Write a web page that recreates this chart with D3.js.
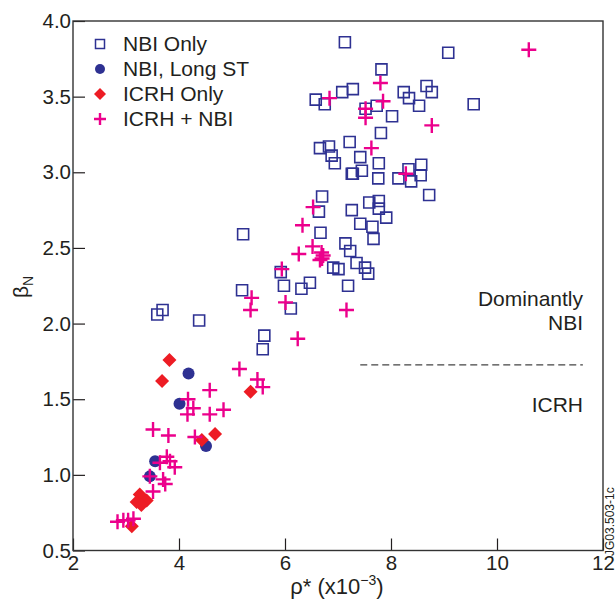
<!DOCTYPE html>
<html>
<head>
<meta charset="utf-8">
<script src="https://cdn.jsdelivr.net/npm/d3@7"></script>
<style>
  body { margin: 0; background: #fff; }
  svg text { font-family: "Liberation Sans", Arial, sans-serif; fill: #231f20; }
</style>
</head>
<body>
<svg id="chart" width="616" height="603"></svg>
<script>
// rho* (x1e-3), beta_N pairs per heating scheme
const nbiOnly = [
  [7.13,3.86],[9.08,3.79],[7.82,3.68],[6.58,3.48],[6.75,3.45],[7.08,3.53],[7.28,3.55],
  [7.52,3.42],[7.73,3.44],[8.02,3.37],[8.24,3.53],[8.34,3.49],[8.53,3.44],[8.67,3.57],
  [8.77,3.53],[9.56,3.45],[7.81,3.26],[6.66,3.16],[6.83,3.17],[6.88,3.11],[6.94,3.06],
  [7.22,3.20],[7.42,3.10],[7.77,3.06],[7.28,2.99],[7.26,2.99],[7.45,3.01],[7.76,2.96],
  [8.33,3.02],[8.57,3.05],[8.56,2.98],[8.38,2.94],[8.14,2.96],[6.70,2.84],[8.72,2.85],
  [6.64,2.74],[6.67,2.60],[7.26,2.75],[7.59,2.80],[7.77,2.81],[7.77,2.76],[7.91,2.70],
  [7.42,2.66],[7.65,2.64],[7.67,2.56],[7.14,2.53],[7.23,2.48],[7.35,2.40],[7.51,2.37],
  [7.57,2.33],[7.01,2.36],[6.91,2.37],[6.47,2.27],[5.21,2.59],[5.92,2.34],[5.98,2.25],
  [6.31,2.23],[5.19,2.22],[6.11,2.10],[4.38,2.02],[5.61,1.92],[5.58,1.83],[7.19,2.25],
  [3.59,2.06],[3.69,2.09]
];
const nbiLongST = [[4.18,1.67],[4.01,1.47],[4.51,1.19],[3.55,1.09],[3.45,0.99]];
const icrhOnly = [
  [3.82,1.76],[3.68,1.62],[5.35,1.55],[4.68,1.27],[4.43,1.23],
  [3.26,0.87],[3.39,0.83],[3.20,0.82],[3.29,0.80],[3.11,0.66]
];
const icrhNbi = [
  [10.60,3.81],[7.80,3.59],[6.84,3.49],[7.85,3.47],[7.52,3.42],[7.52,3.36],[8.77,3.31],
  [7.63,3.16],[8.28,2.99],[6.53,2.77],[6.33,2.65],[6.52,2.51],[6.26,2.46],[6.69,2.47],
  [6.66,2.42],[6.72,2.45],[6.70,2.43],[5.94,2.36],[5.37,2.17],[5.35,2.09],[6.01,2.14],
  [6.24,1.90],[7.16,2.09],[5.14,1.70],[4.58,1.56],[4.17,1.50],[5.48,1.63],[5.58,1.58],
  [4.27,1.44],[4.16,1.40],[4.58,1.40],[4.84,1.43],[3.51,1.30],[3.80,1.26],[4.30,1.25],
  [3.77,1.12],[3.64,1.08],[3.83,1.09],[3.92,1.05],[3.45,0.99],[3.70,0.97],[3.74,0.94],
  [3.51,0.89],[2.84,0.69],[2.95,0.70],[3.04,0.70],[3.14,0.71]
];
const xTicks = [2, 4, 6, 8, 10, 12];
const yTicks = [0.5, 1.0, 1.5, 2.0, 2.5, 3.0, 3.5, 4.0];
const legendLabels = ["NBI Only", "NBI, Long ST", "ICRH Only", "ICRH + NBI"];
const boundary = [[7.42, 1.727], [11.62, 1.727]];

const navy = "#2e3192", red = "#ed1c24", magenta = "#ec008c";
const svg = d3.select("#chart");
const mLeft = 73, mRight = 603, mTop = 21, mBottom = 550.5;

const x = d3.scaleLinear().domain([2, 12]).range([mLeft, mRight]);
const y = d3.scaleLinear().domain([0.5, 4]).range([mBottom, mTop]);

// axes with inward ticks
const xAxis = svg.append("g")
  .attr("transform", `translate(0,${mBottom})`)
  .call(d3.axisBottom(x).tickValues(xTicks).tickSize(-12).tickPadding(5).tickFormat(d3.format("d")));
const yAxis = svg.append("g")
  .attr("transform", `translate(${mLeft},0)`)
  .call(d3.axisLeft(y).tickValues(yTicks).tickSize(-12).tickPadding(2).tickFormat(d3.format(".1f")));
[xAxis, yAxis].forEach(a => {
  a.select(".domain").remove();
  a.selectAll(".tick line").attr("stroke", "#231f20").attr("stroke-width", 1.2);
  a.selectAll(".tick text").attr("font-size", 20.5).attr("fill", "#231f20")
    .attr("font-family", "Liberation Sans, Arial, sans-serif");
});

// frame
svg.append("rect")
  .attr("x", mLeft).attr("y", mTop)
  .attr("width", mRight - mLeft).attr("height", mBottom - mTop)
  .attr("fill", "none").attr("stroke", "#333").attr("stroke-width", 1.4);

// dashed boundary line
svg.append("path")
  .attr("d", d3.line().x(d => x(d[0])).y(d => y(d[1]))(boundary))
  .attr("stroke", "#444").attr("stroke-width", 1.2).attr("stroke-dasharray", "7,4");

svg.append("text").attr("x", 583).attr("y", 306).attr("text-anchor", "end")
  .attr("font-size", 21).text("Dominantly");
svg.append("text").attr("x", 583).attr("y", 330).attr("text-anchor", "end")
  .attr("font-size", 21).text("NBI");
svg.append("text").attr("x", 583).attr("y", 412).attr("text-anchor", "end")
  .attr("font-size", 21).text("ICRH");

// marker shapes
const sq = s => `M${-s/2},${-s/2}h${s}v${s}h${-s}Z`;
const dia = s => `M0,${-s/2}L${s/2},0L0,${s/2}L${-s/2},0Z`;
const plus = s => `M${-s/2},0H${s/2}M0,${-s/2}V${s/2}`;
const pos = d => `translate(${x(d[0])},${y(d[1])})`;

const g = svg.append("g");
g.selectAll("path.nbi").data(nbiOnly).enter().append("path")
  .attr("class", "nbi").attr("d", sq(11)).attr("transform", pos)
  .attr("fill", "none").attr("stroke", navy).attr("stroke-width", 1.6);
g.selectAll("circle.longst").data(nbiLongST).enter().append("circle")
  .attr("class", "longst").attr("cx", d => x(d[0])).attr("cy", d => y(d[1]))
  .attr("r", 6).attr("fill", navy);
g.selectAll("path.icrh").data(icrhOnly).enter().append("path")
  .attr("class", "icrh").attr("d", dia(14)).attr("transform", pos).attr("fill", red);
g.selectAll("path.both").data(icrhNbi).enter().append("path")
  .attr("class", "both").attr("d", plus(15)).attr("transform", pos)
  .attr("fill", "none").attr("stroke", magenta).attr("stroke-width", 2.4);

// legend
const legend = svg.append("g");
const rows = legend.selectAll("g").data(legendLabels).enter().append("g")
  .attr("transform", (d, i) => `translate(100,${44 + i * 25})`);
rows.each(function(d, i) {
  const r = d3.select(this);
  if (i === 0) r.append("path").attr("d", sq(9)).attr("fill", "none").attr("stroke", navy).attr("stroke-width", 1.5);
  if (i === 1) r.append("circle").attr("r", 5).attr("fill", navy);
  if (i === 2) r.append("path").attr("d", dia(12)).attr("fill", red);
  if (i === 3) r.append("path").attr("d", plus(12)).attr("stroke", magenta).attr("stroke-width", 2.4);
});
rows.append("text").attr("x", 23).attr("dy", "0.35em").attr("font-size", 21).text(d => d);

// axis titles
const xl = svg.append("text").attr("x", 337).attr("y", 594).attr("text-anchor", "middle").attr("font-size", 22);
xl.append("tspan").text("ρ* (x10");
xl.append("tspan").attr("font-size", 14).attr("dy", -9).text("−3");
xl.append("tspan").attr("dy", 9).text(")");

const yl = svg.append("text").attr("transform", "translate(28,287) rotate(-90)")
  .attr("text-anchor", "middle").attr("font-size", 21);
yl.append("tspan").text("β");
yl.append("tspan").attr("font-size", 14).attr("dy", 5).text("N");

svg.append("text").attr("transform", "translate(614,556) rotate(-90)")
  .attr("font-size", 12).text("JG03.503-1c");
</script>
</body>
</html>
